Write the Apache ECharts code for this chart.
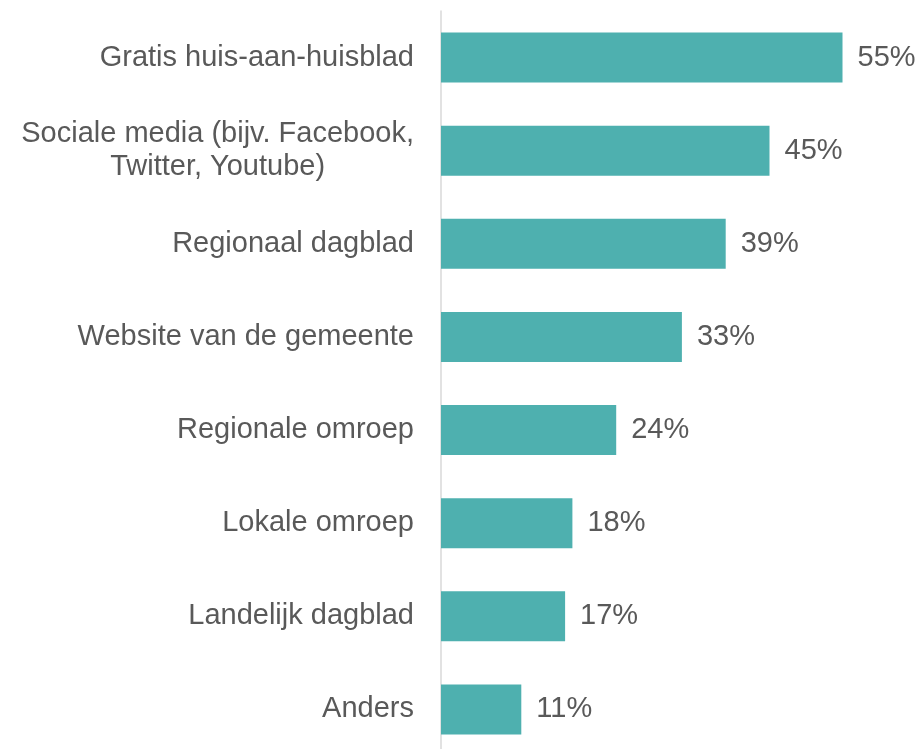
<!DOCTYPE html>
<html>
<head>
<meta charset="utf-8">
<script src="https://cdn.jsdelivr.net/npm/echarts@6/dist/echarts.min.js"></script>
<style>
  html, body { margin: 0; padding: 0; background: #fff; overflow: hidden; }
  #chart { width: 921px; height: 757px; }
</style>
</head>
<body>
<div id="chart"></div>
<script>
const categories = [
  'Gratis huis-aan-huisblad',
  'Sociale media (bijv. Facebook,\nTwitter, Youtube)',
  'Regionaal dagblad',
  'Website van de gemeente',
  'Regionale omroep',
  'Lokale omroep',
  'Landelijk dagblad',
  'Anders'
]
const values = [55, 45, 39, 33, 24, 18, 17, 11]

const chart = echarts.init(document.getElementById('chart'))

chart.setOption({
  animation: false,
  grid: {
    left: 441,
    top: 11,
    width: 438,
    height: 745
  },
  xAxis: {
    type: 'value',
    min: 0,
    max: 60,
    show: false
  },
  yAxis: {
    type: 'category',
    inverse: true,
    data: categories,
    axisTick: { show: false },
    axisLine: { lineStyle: { color: '#d9d9d9', width: 1.5 } },
    axisLabel: {
      margin: 27,
      align: 'right',
      // keep the two-line label centred per line
      formatter: v => v.split('\n').map(s => '{c|' + s + '}').join('\n'),
      rich: {
        c: {
          fontFamily: '"Liberation Sans", Arial, sans-serif',
          fontSize: 29,
          lineHeight: 33,
          color: '#595959',
          align: 'center'
        }
      }
    }
  },
  series: [{
    type: 'bar',
    data: values,
    barWidth: 50,
    itemStyle: { color: '#4eb0af' },
    label: {
      show: true,
      position: 'right',
      distance: 15,
      formatter: '{c}%',
      fontFamily: '"Liberation Sans", Arial, sans-serif',
      fontSize: 29,
      color: '#595959'
    }
  }]
})

window.addEventListener('resize', () => chart.resize())
</script>
</body>
</html>
